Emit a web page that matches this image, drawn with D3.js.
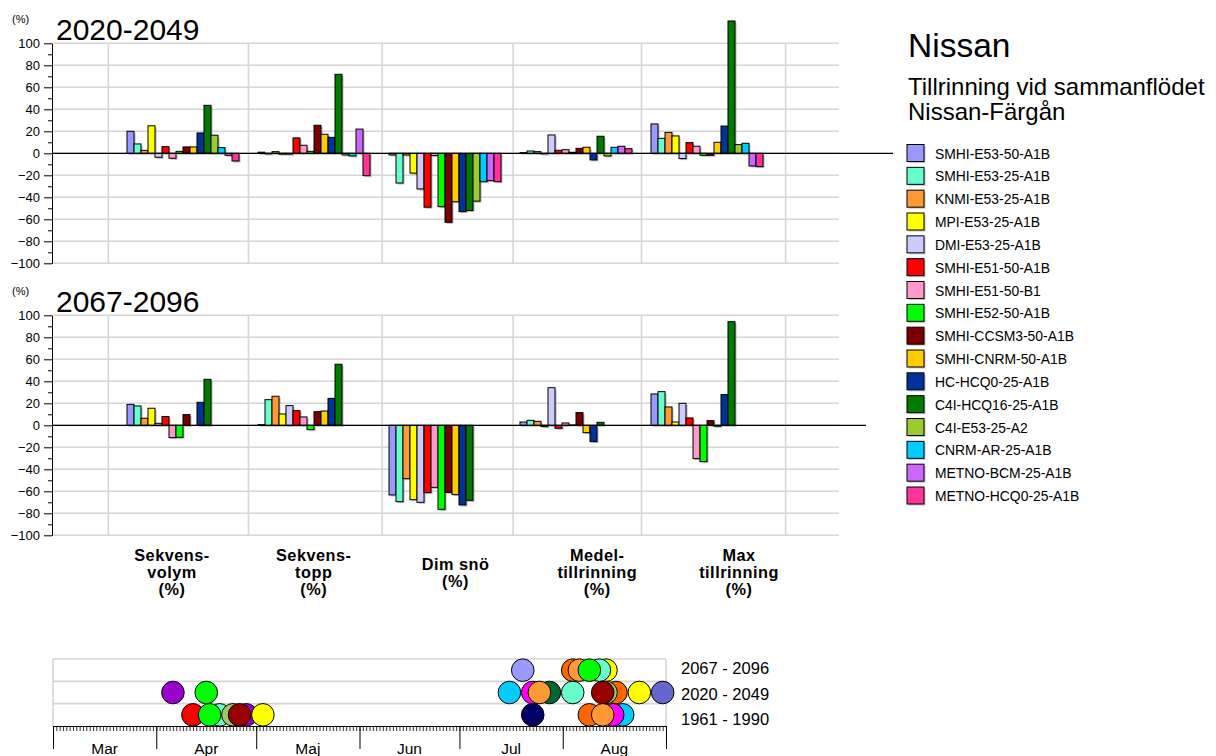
<!DOCTYPE html>
<html>
<head>
<meta charset="utf-8">
<script src="https://cdn.jsdelivr.net/npm/d3@7"></script>
<style>
  body { margin: 0; background: #fff; }
  svg { display: block; font-family: "Liberation Sans", Arial, sans-serif; }
</style>
</head>
<body>
<svg id="chart" width="1216" height="756"></svg>
<script>
// Climate model runs (legend order = bar order inside each group)
const models = [
  "SMHI-E53-50-A1B", "SMHI-E53-25-A1B", "KNMI-E53-25-A1B", "MPI-E53-25-A1B",
  "DMI-E53-25-A1B", "SMHI-E51-50-A1B", "SMHI-E51-50-B1", "SMHI-E52-50-A1B",
  "SMHI-CCSM3-50-A1B", "SMHI-CNRM-50-A1B", "HC-HCQ0-25-A1B", "C4I-HCQ16-25-A1B",
  "C4I-E53-25-A2", "CNRM-AR-25-A1B", "METNO-BCM-25-A1B", "METNO-HCQ0-25-A1B"
];
const modelColors = [
  "#9999ff", "#66ffcc", "#ff9933", "#ffff00",
  "#ccccff", "#ff0000", "#ff99cc", "#00ff00",
  "#7a0000", "#ffcc00", "#003399", "#007a00",
  "#99cc33", "#00ccff", "#cc66ff", "#ff3399"
];

// Indicator categories (multi-line labels)
const categoryLabels = [
  ["Sekvens-", "volym", "(%)"],
  ["Sekvens-", "topp", "(%)"],
  ["Dim snö", "(%)"],
  ["Medel-", "tillrinning", "(%)"],
  ["Max", "tillrinning", "(%)"]
];

// Change in % relative to 1961-1990, period 2020-2049
const sekvensvolym2020 = [20, 8.5, 2.7, 25, -3.6, 6, -4.5, 1.8, 5.8, 5.8, 18.5, 43.6, 16.4, 5.2, -1.8, -7];
const sekvenstopp2020  = [1, -0.6, 1.5, -0.8, -0.8, 14, 7.3, 1.8, 25.5, 17.3, 14.5, 71.8, -1.5, -2.4, 22, -20.3];
const dimSno2020       = [-1.5, -27, -1.5, -18, -32.4, -49, -2, -48.5, -62.7, -44, -53, -52, -43.5, -25.8, -24.8, -25.8];
const medel2020        = [0.6, 2.1, 1.5, -0.6, 16.7, 2.7, 3.3, 0.9, 4.5, 5.5, -6, 15.5, -2.4, 5.5, 6.4, 4.2];
const max2020          = [26.7, 13.6, 19, 15.8, -4.8, 9.7, 6.4, -1.8, -1.8, 10, 24.8, 120.3, 7.9, 9.1, -11.5, -12.1];

// Period 2067-2096 (the last four runs end before this period)
const sekvensvolym2067 = [19, 17.6, 6.4, 15.5, 1.8, 7.9, -11.2, -10.9, 9.7, 0, 20.9, 41.8, null, null, null, null];
const sekvenstopp2067  = [0.6, 23.3, 26.4, 10.3, 17.9, 13.3, 7.6, -3.9, 12.4, 13, 24.5, 55.5, null, null, null, null];
const dimSno2067       = [-63.3, -69.4, -48.5, -67.6, -70, -61.2, -56.4, -76.4, -61, -63, -72.4, -68.2, null, null, null, null];
const medel2067        = [3, 4.5, 3.6, -1.2, 34.2, -2.7, 2.1, 0.3, 11.5, -6.7, -14.8, 2.7, null, null, null, null];
const max2067          = [28.5, 30.6, 16.7, 3, 20, 6.7, -30.3, -33, 4.2, -0.9, 27.9, 94.2, null, null, null, null];

const yTickValues = [-100, -80, -60, -40, -20, 0, 20, 40, 60, 80, 100];
const yMinorTicks = [-90, -70, -50, -30, -10, 10, 30, 50, 70, 90];

// Timing of the spring / summer flow peak per model run
const timelineRows = ["2067 - 2096", "2020 - 2049", "1961 - 1990"];
const monthNames = ["Mar", "Apr", "Maj", "Jun", "Jul", "Aug"];
const dotPalette = {
  lavender: "#9999ff", aqua: "#66ffcc", orange: "#ff6600", lightorange: "#ff9933",
  yellow: "#ffff00", green: "#00ff00", red: "#ff0000", darkred: "#990000",
  purple: "#9900cc", yellowgreen: "#99cc66", cyan: "#00ccff", magenta: "#ff00ff",
  darkgreen: "#006633", navy: "#000066", slate: "#6666cc"
};
const dates2067 = ["2001-07-20", "2001-08-04", "2001-08-06", "2001-08-14", "2001-08-12", "2001-08-09"];
const keys2067  = ["lavender", "orange", "lightorange", "yellow", "aqua", "green"];
const dates2020 = ["2001-04-06", "2001-04-16", "2001-07-16", "2001-07-23", "2001-07-28", "2001-07-25",
                   "2001-08-04", "2001-08-17", "2001-08-14", "2001-08-13", "2001-08-24", "2001-08-31"];
const keys2020  = ["purple", "green", "cyan", "magenta", "darkgreen", "lightorange",
                   "aqua", "orange", "yellowgreen", "darkred", "yellow", "slate"];
const dates1961 = ["2001-04-12", "2001-04-20", "2001-04-17", "2001-04-24", "2001-04-28", "2001-04-26",
                   "2001-05-03", "2001-07-23", "2001-08-19", "2001-08-16", "2001-08-09", "2001-08-13"];
const keys1961  = ["red", "aqua", "green", "yellowgreen", "purple", "darkred",
                   "yellow", "navy", "cyan", "magenta", "orange", "lightorange"];

// ---------------------------------------------------------------------------
const svg = d3.select("#chart");
const gridColor = "#d6d6d6";

const plotLeft = 52, plotRight = 839;
const xSlot = d3.scaleLinear().domain([0, 6]).range([plotLeft, plotLeft + 786]);
const xCat = d3.scaleBand().domain(d3.range(categoryLabels.length)).range([xSlot(0.5), xSlot(5.5)]);
const xModel = d3.scaleBand().domain(d3.range(models.length)).range([0, 112]);
const modelOffset = (xCat.bandwidth() - 112) / 2;
const verticalGrid = [0.43, 1.5, 2.52, 3.52, 4.5, 5.6];

const panels = [
  { title: "2020-2049", top: 43.3, zeroEnd: 893,
    values: [sekvensvolym2020, sekvenstopp2020, dimSno2020, medel2020, max2020] },
  { title: "2067-2096", top: 315.3, zeroEnd: 866,
    values: [sekvensvolym2067, sekvenstopp2067, dimSno2067, medel2067, max2067] }
];

panels.forEach(p => {
  const y = d3.scaleLinear().domain([-100, 100]).range([p.top + 220, p.top]);
  const g = svg.append("g");

  // grid
  g.selectAll("line.hg").data(yTickValues).join("line")
    .attr("x1", plotLeft).attr("x2", plotRight)
    .attr("y1", d => y(d)).attr("y2", d => y(d))
    .attr("stroke", gridColor).attr("stroke-width", 1.6);
  g.selectAll("line.vg").data(verticalGrid).join("line")
    .attr("x1", d => xSlot(d)).attr("x2", d => xSlot(d))
    .attr("y1", y(100)).attr("y2", y(-100))
    .attr("stroke", gridColor).attr("stroke-width", 1.6);

  // y axis
  const axis = g.append("g").attr("transform", `translate(${plotLeft},0)`)
    .call(d3.axisLeft(y).tickValues(yTickValues).tickSize(8).tickSizeOuter(0).tickPadding(4));
  axis.selectAll("text").attr("font-size", 13).attr("fill", "#000")
    .attr("font-family", "Liberation Sans, Arial, sans-serif");
  axis.select(".domain").attr("stroke", "#000");
  g.append("g").attr("transform", `translate(${plotLeft},0)`)
    .call(d3.axisLeft(y).tickValues(yMinorTicks).tickSize(4).tickSizeOuter(0).tickFormat(""))
    .select(".domain").remove();

  // titles
  g.append("text").attr("x", 12).attr("y", p.top - 20).attr("font-size", 11).text("(%)");
  g.append("text").attr("x", 56).attr("y", p.top - 3).attr("font-size", 30).text(p.title);

  // bars
  p.values.forEach((vals, c) => {
    const bars = vals.map((v, m) => ({ v, m })).filter(d => d.v !== null);
    const bx = d => xCat(c) + modelOffset + xModel(d.m);
    const by = d => y(Math.max(0, d.v));
    const bh = d => Math.abs(y(d.v) - y(0));
    g.selectAll(null).data(bars).join("rect")
      .attr("x", d => bx(d) + 1.5).attr("y", d => by(d) + 1.5)
      .attr("width", xModel.bandwidth()).attr("height", bh)
      .attr("fill", "#8a8a8a").attr("opacity", 0.6);
    g.selectAll(null).data(bars).join("rect")
      .attr("x", bx).attr("y", by)
      .attr("width", xModel.bandwidth()).attr("height", bh)
      .attr("fill", d => modelColors[d.m])
      .attr("stroke", "#000").attr("stroke-width", 1);
  });

  // zero line
  g.append("line").attr("x1", plotLeft).attr("x2", p.zeroEnd)
    .attr("y1", y(0)).attr("y2", y(0)).attr("stroke", "#000").attr("stroke-width", 1.2);
});

// category labels
const xLabel = d3.scalePoint().domain(d3.range(categoryLabels.length)).range([172, 739]);
categoryLabels.forEach((lines, i) => {
  const t = svg.append("text").attr("text-anchor", "middle")
    .attr("font-size", 16.3).attr("font-weight", "bold").attr("letter-spacing", 0.5);
  const lh = 17, mid = 572.5;
  lines.forEach((s, k) => {
    t.append("tspan").attr("x", xLabel(i))
      .attr("y", mid + (k - (lines.length - 1) / 2) * lh + 5.5).text(s);
  });
});

// legend
svg.append("text").attr("x", 908).attr("y", 57).attr("font-size", 33.5).text("Nissan");
svg.append("text").attr("x", 908).attr("y", 95).attr("font-size", 24).text("Tillrinning vid sammanflödet");
svg.append("text").attr("x", 908).attr("y", 120).attr("font-size", 24).text("Nissan-Färgån");
const legY = d3.scalePoint().domain(d3.range(models.length)).range([153.5, 496]);
const leg = svg.append("g");
leg.selectAll("rect.s").data(models).join("rect")
  .attr("x", 908.5).attr("y", (d, i) => legY(i) - 7.5).attr("width", 17).attr("height", 17)
  .attr("fill", "#8a8a8a").attr("opacity", 0.5);
leg.selectAll("rect.c").data(models).join("rect")
  .attr("x", 907).attr("y", (d, i) => legY(i) - 9).attr("width", 17).attr("height", 17)
  .attr("fill", (d, i) => modelColors[i]).attr("stroke", "#000").attr("stroke-width", 1);
leg.selectAll("text").data(models).join("text")
  .attr("x", 935).attr("y", (d, i) => legY(i) + 5).attr("font-size", 13.9).text(d => d);

// ---------------------------------------------------------------------------
// timeline of peak dates
const parse = d3.timeParse("%Y-%m-%d");
const tl = { left: 53, right: 666, top: 659, bottom: 726 };
const xTime = d3.scaleTime().domain([new Date(2001, 2, 1), new Date(2001, 8, 1)]).range([tl.left, tl.right]);
const yRow = d3.scaleBand().domain(timelineRows).range([tl.top, tl.bottom]);

const tg = svg.append("g");
tg.selectAll("line.row").data([tl.top, yRow(timelineRows[1]), yRow(timelineRows[2])]).join("line")
  .attr("x1", tl.left).attr("x2", tl.right).attr("y1", d => d).attr("y2", d => d)
  .attr("stroke", gridColor).attr("stroke-width", 1.6);
tg.selectAll("line.side").data([tl.left, tl.right]).join("line")
  .attr("x1", d => d).attr("x2", d => d).attr("y1", tl.top).attr("y2", tl.bottom)
  .attr("stroke", gridColor).attr("stroke-width", 1.6);

const rowsData = [
  { row: timelineRows[0], dates: dates2067, keys: keys2067 },
  { row: timelineRows[1], dates: dates2020, keys: keys2020 },
  { row: timelineRows[2], dates: dates1961, keys: keys1961 }
];
rowsData.forEach(r => {
  const cy = yRow(r.row) + yRow.bandwidth() / 2;
  tg.selectAll(null).data(r.dates.map((d, i) => ({ d: parse(d), k: r.keys[i] }))).join("circle")
    .attr("cx", d => xTime(d.d)).attr("cy", cy).attr("r", 11.3)
    .attr("fill", d => dotPalette[d.k]).attr("stroke", "#000").attr("stroke-width", 1);
});

// row labels
tg.selectAll("text.rl").data(timelineRows).join("text")
  .attr("x", 681).attr("y", (d, i) => yRow(d) + yRow.bandwidth() / 2 + 7 + (i - 1) * 3)
  .attr("font-size", 16.5).text(d => d);

// time axis: daily minor ticks, month boundaries, month names
tg.append("g").attr("transform", `translate(0,${tl.bottom})`)
  .call(d3.axisBottom(xTime).ticks(d3.timeDay.every(1)).tickSize(5).tickSizeOuter(0).tickFormat(""))
  .call(a => a.select(".domain").attr("stroke", "#000").attr("stroke-width", 1.2))
  .call(a => a.selectAll(".tick line").attr("stroke-width", 0.8));
tg.append("g").attr("transform", `translate(0,${tl.bottom})`)
  .call(d3.axisBottom(xTime).ticks(d3.timeMonth.every(1)).tickSize(23).tickSizeOuter(0).tickFormat(""))
  .select(".domain").remove();
const monthStarts = d3.timeMonth.range(new Date(2001, 2, 1), new Date(2001, 8, 1));
tg.selectAll("text.mn").data(monthStarts).join("text")
  .attr("x", d => (xTime(d) + xTime(d3.timeMonth.offset(d, 1))) / 2)
  .attr("y", 754).attr("text-anchor", "middle").attr("font-size", 15.5)
  .text((d, i) => monthNames[i]);
</script>
</body>
</html>
